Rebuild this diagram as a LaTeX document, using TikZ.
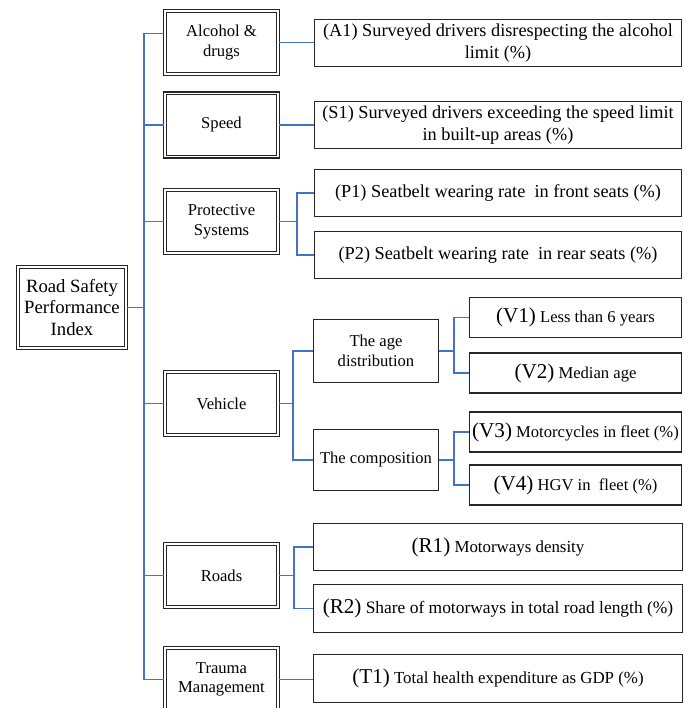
\documentclass[tikz,border=0pt]{standalone}
\usepackage{fontspec}
\setmainfont{Liberation Serif}

\definecolor{linkblue}{RGB}{68,114,196}
\definecolor{boxline}{RGB}{38,38,38}

\tikzset{
	catbox/.style={draw=boxline,double,line width=0.8pt,double distance=1.2pt,
		align=center,inner sep=1pt,minimum width=2.83cm,minimum height=1.58cm,
		font=\fontsize{11.8}{14}\selectfont},
	itembox/.style={draw=boxline,line width=0.8pt,align=center,inner sep=1pt,
		minimum width=9.18cm,minimum height=1.18cm,
		font=\fontsize{13}{15.6}\selectfont},
	subbox/.style={draw=boxline,line width=0.8pt,align=center,inner sep=1pt,
		minimum width=3.13cm,minimum height=1.57cm,
		font=\fontsize{11.8}{14.5}\selectfont},
	vbox/.style={draw=boxline,line width=0.8pt,align=center,inner sep=0.5pt,
		minimum width=5.3cm,minimum height=1.0cm,
		font=\fontsize{11.8}{14}\selectfont},
	link/.style={draw=linkblue,line width=0.9pt},
}

\begin{document}
\begin{tikzpicture}[x=0.025cm,y=-0.025cm]

\useasboundingbox (0,0) rectangle (688,708);

\def\code#1{{\fontsize{15}{15}\selectfont(#1)}}

\def\fork#1#2#3#4{
	\draw[link] (#1.east) -- (#1.east -| #2);
	\draw[link] (#3.west) -| (#2 |- #4.west) -- (#4.west);
}

% root and the six areas
\node[catbox,minimum width=2.7cm,minimum height=2.02cm,
	font=\fontsize{13.3}{15.6}\selectfont] (root) at (72,307.5)
	{Road Safety\\Performance\\Index};

\node[catbox] (alcohol) at (221.5,42.5) {Alcohol \&\\drugs};
\node[catbox] (speed)   at (221.5,125)  {Speed};
\node[catbox] (prot)    at (221.5,221.5) {Protective\\Systems};
\node[catbox] (vehicle) at (221.5,403.5) {Vehicle};
\node[catbox] (roads)   at (221.5,575.5) {Roads};
\node[catbox] (trauma)  at (221.5,679.5) {Trauma\\Management};

% indicators
\node[itembox] (a1) at (498,43)
	{(A1) Surveyed drivers disrespecting the alcohol\\limit (\%)};
\node[itembox] (s1) at (498,125)
	{(S1) Surveyed drivers exceeding the speed limit\\in built-up areas (\%)};
\node[itembox] (p1) at (498,193) {(P1) Seatbelt wearing rate\ \ in front seats (\%)};
\node[itembox] (p2) at (498,255) {(P2) Seatbelt wearing rate\ \ in rear seats (\%)};

\node[subbox] (age)  at (376,351) {The age\\distribution};
\node[subbox,minimum height=1.52cm] (comp) at (376,460) {The composition};

\node[vbox] (v1) at (575.5,317.5) {\code{V1} Less than 6 years};
\node[vbox] (v2) at (575.5,373)   {\code{V2} Median age};
\node[vbox] (v3) at (575.5,432)   {\code{V3} Motorcycles in fleet (\%)};
\node[vbox] (v4) at (575.5,485)   {\code{V4} HGV in\ \ fleet (\%)};

\node[itembox,minimum width=9.23cm,font=\fontsize{12}{14}\selectfont] (r1) at (498,547)
	{\code{R1} Motorways density};
\node[itembox,minimum width=9.23cm,font=\fontsize{12.4}{14}\selectfont] (r2) at (498,608.5)
	{\code{R2} Share of motorways in total road length (\%)};
\node[itembox,minimum width=9.23cm,font=\fontsize{12}{14}\selectfont] (t1) at (498,678.5)
	{\code{T1} Total health expenditure as GDP (\%)};

% connectors
\coordinate (trunk) at (144,0);
\coordinate (atop) at ([yshift=0.225cm]alcohol.west);
\coordinate (pfork) at (297,0);
\coordinate (vfork) at (293,0);
\coordinate (rfork) at (294,0);
\coordinate (afork) at (454,0);

\draw[link] (root.east) -- (root.east -| trunk);
\draw[link] (atop -| trunk) -- (trauma.west -| trunk);
\draw[link] (atop -| trunk) -- (atop);
\foreach \c in {speed,prot,vehicle,roads,trauma}
	\draw[link] (\c.west -| trunk) -- (\c.west);

\draw[link] (alcohol.east) -- (alcohol.east -| a1.west);
\draw[link] (speed.east) -- (speed.east -| s1.west);
\draw[link] (trauma.east) -- (trauma.east -| t1.west);

\fork{prot}{pfork}{p1}{p2}
\fork{vehicle}{vfork}{age}{comp}
\fork{age}{afork}{v1}{v2}
\fork{comp}{afork}{v3}{v4}
\fork{roads}{rfork}{r1}{r2}

\end{tikzpicture}
\end{document}
